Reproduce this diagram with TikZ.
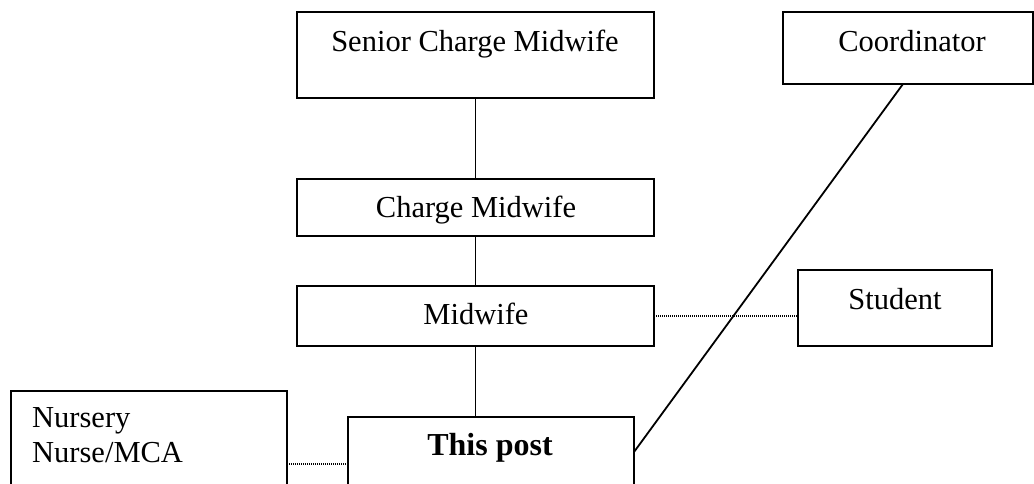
\documentclass[tikz,border=0pt]{standalone}
\usepackage{fontspec}
\setmainfont{Liberation Serif}
\usetikzlibrary{calc}
\begin{document}
\begin{tikzpicture}[x=1pt,y=-1pt,
  box/.style={draw,line width=1.8pt,inner sep=0pt,outer sep=0pt,anchor=north west},
  lbl/.style={anchor=base,inner sep=0pt,font=\fontsize{30.5}{34}\selectfont},
  solidlink/.style={line width=1.8pt},
  dotlink/.style={line width=1.2pt,dash pattern=on 1pt off 1pt}]
\useasboundingbox (0,0) rectangle (1034,484);
% boxes
\node[box,minimum width=357pt,minimum height=86pt] (senior) at (297,12) {};
\node[box,minimum width=250pt,minimum height=72pt] (coord) at (783,12) {};
\node[box,minimum width=357pt,minimum height=57pt] (charge) at (297,179) {};
\node[box,minimum width=357pt,minimum height=60pt] (midwife) at (297,286) {};
\node[box,minimum width=194pt,minimum height=76pt] (student) at (798,270) {};
\node[box,minimum width=276pt,minimum height=120pt] (nursery) at (11,391) {};
\node[box,minimum width=286pt,minimum height=100pt] (post) at (348,417) {};
% labels
\node[lbl] (tsenior) at (475,52) {Senior Charge Midwife};
\node[lbl] (tcoord) at (912,52) {Coordinator};
\node[lbl] (tcharge) at (476,217) {Charge Midwife};
\node[lbl] (tmidwife) at (476,324) {Midwife};
\node[lbl] (tstudent) at (895,309) {Student};
\node[lbl,anchor=base west] (tnursery1) at (32,427) {Nursery};
\node[lbl,anchor=base west] (tnursery2) at (32,462) {Nurse/MCA};
\node[lbl,font=\fontsize{32}{34}\selectfont\bfseries] (tpost) at (490,455) {This post};
% connectors
\draw[solidlink] (senior.south) -- (senior.south |- charge.north);
\draw[solidlink] (charge.south) -- (charge.south |- midwife.north);
\draw[solidlink] (midwife.south) -- (midwife.south |- post.north);
\draw[dotlink] (midwife.east) -- (midwife.east -| student.west);
\coordinate (nd) at ($(nursery.north east)+(0,73)$);
\draw[dotlink] (nd) -- (nd -| post.west);
\coordinate (pe) at ($(post.north east)+(0,35)$);
\coordinate (cs) at ($(coord.south)+(-5,0)$);
\draw[solidlink] (pe) -- (cs);
\end{tikzpicture}
\end{document}
